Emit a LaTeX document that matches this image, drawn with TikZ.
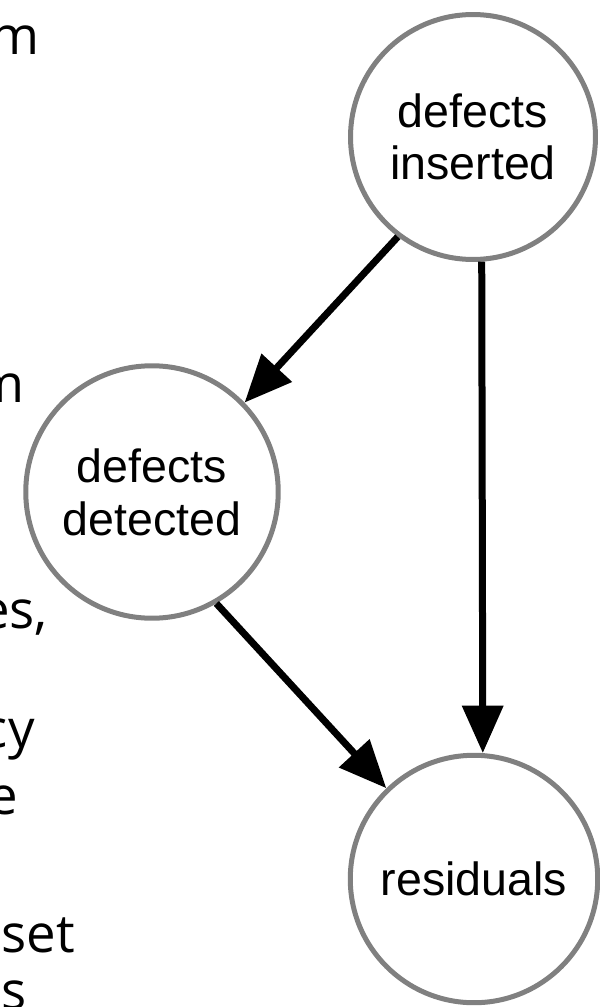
\documentclass[tikz,border=0pt]{standalone}
\usepackage{fontspec}
\setmainfont{Liberation Sans}
\newfontfamily\teksfont{Open Sans}
\usetikzlibrary{arrows.meta, positioning}

\begin{document}
\begin{tikzpicture}[
    x=0.02cm, y=-0.02cm,
    lingkaran/.style={circle, draw=black!50, line width=0.1cm, fill=white, inner sep=0pt,
                      align=center, font=\fontsize{26.5}{30}\selectfont},
    panahtebal/.style={-{Triangle[length=0.95cm, width=0.8cm]}, line width=0.14cm, black},
    potongan/.style={anchor=base east, inner sep=0pt, font=\teksfont\fontsize{30}{36}\selectfont}
  ]
    \useasboundingbox (0,0) rectangle (599,1007);
    % sisa teks di tepi kiri
    \foreach \t/\x/\y [count=\i] in {m/40/55, m/25/402, {es,}/48/628, cy/35/747,
                                    e/18/814, set/75/952, es/27/1009} {
      \node[potongan] (teks\i) at (\x,\y) {\t};
    }
    \node[lingkaran, minimum size=4.9cm] (sisip) at (473,137) {defects\\inserted};
    \node[lingkaran, minimum size=5.05cm] (deteksi) at (152,492) {defects\\detected};
    \node[lingkaran, minimum size=4.95cm] (sisa) at (474,879) {residuals};
    \draw[panahtebal] (sisip.233) -- (deteksi.44);
    \draw[panahtebal] (sisip.274) -- (sisa.86);
    \draw[panahtebal] (deteksi.-60) -- (sisa.134);
  \end{tikzpicture}
\end{document}
